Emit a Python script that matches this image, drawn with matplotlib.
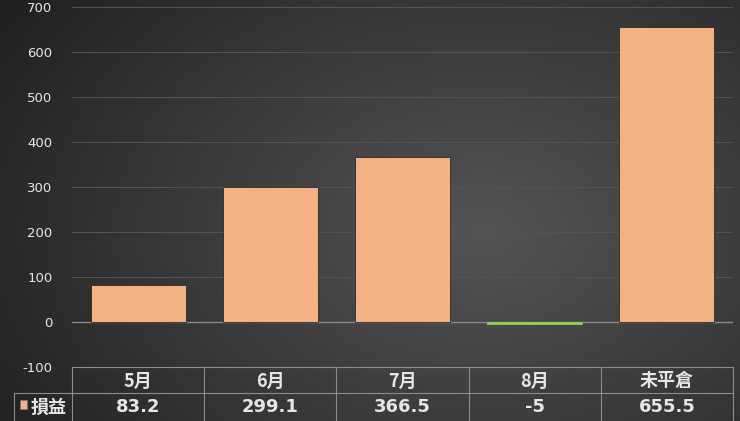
import numpy as np
import matplotlib
matplotlib.use("Agg")
import matplotlib.pyplot as plt
from matplotlib.patches import Rectangle

plt.rcParams['font.family'] = ['Noto Sans CJK TC', 'DejaVu Sans']

categories = ['5月', '6月', '7月', '8月', '未平倉']
values = [83.2, 299.1, 366.5, -5, 655.5]
value_labels = ['83.2', '299.1', '366.5', '-5', '655.5']
series_name = '損益'
yticks = [-100, 0, 100, 200, 300, 400, 500, 600, 700]

W, H = 740, 421
fig = plt.figure(figsize=(W / 100, H / 100), dpi=100)

# background gradient
bg = fig.add_axes([0, 0, 1, 1])
yy, xx = np.mgrid[0:H, 0:W]
cx, cy = 0.65 * W, 0.55 * H
r = np.sqrt(((xx - cx) / (0.8 * W)) ** 2 + ((yy - cy) / (1.0 * H)) ** 2)
g = np.clip(0.33 - 0.21 * r, 0.13, 0.34)
img = np.dstack([g, g, g])
bg.imshow(img, aspect='auto', extent=[0, 1, 0, 1], origin='upper')
bg.set_axis_off()

x0, x1 = 72 / W, 733 / W
ytop, ybot = 7, 367
ax = fig.add_axes([x0, (H - ybot) / H, x1 - x0, (ybot - ytop) / H])
ax.set_facecolor('none')
ax.set_ylim(-100, 700)
ax.set_xlim(-0.5, len(categories) - 0.5)
ax.set_yticks(yticks)
ax.set_yticklabels([str(t) for t in yticks], color='#e6e6e6', fontsize=9.5,
                   family=['DejaVu Sans'])
ax.tick_params(axis='y', length=0, pad=14)
ax.tick_params(axis='x', length=0, labelbottom=False)
for s in ax.spines.values():
    s.set_visible(False)
ax.grid(axis='y', color='#545454', linewidth=0.7)
ax.set_axisbelow(True)
ax.axhline(0, color='#888888', linewidth=1.0, zorder=1)

colors = ['#F4B183' if v >= 0 else '#92D050' for v in values]
edges = ['#2a2a2a' if v >= 0 else '#92D050' for v in values]
xs = np.arange(len(categories))
bars = ax.bar(xs, values, width=0.72, color=colors, edgecolor=edges,
              linewidth=0.6, zorder=2)

# data table
hdr_top, hdr_bot, row_bot = 367, 393, 423
def fy(p):
    return (H - p) / H
line_c = '#8c8c8c'
ncol = len(categories)
col_w = (x1 - x0) / ncol
fig.add_artist(plt.Line2D([x0, x1], [fy(hdr_top)] * 2, color=line_c, lw=0.8))
fig.add_artist(plt.Line2D([14 / W, x1], [fy(hdr_bot)] * 2, color=line_c, lw=0.8))
for i in range(ncol + 1):
    xv = x0 + i * col_w
    fig.add_artist(plt.Line2D([xv, xv], [fy(hdr_top), fy(row_bot)], color=line_c, lw=0.8))
fig.add_artist(plt.Line2D([14 / W, 14 / W], [fy(hdr_bot), fy(row_bot)], color=line_c, lw=0.8))

for i, (c, vl) in enumerate(zip(categories, value_labels)):
    xc = x0 + (i + 0.5) * col_w
    fig.text(xc, fy((hdr_top + hdr_bot) / 2 + 1), c, color='#e6e6e6', fontsize=13,
             fontweight='bold', ha='center', va='center')
    fig.text(xc, fy(407.5), vl, color='#e6e6e6', fontsize=13,
             fontweight='bold', ha='center', va='center', family=['DejaVu Sans'])

fig.add_artist(Rectangle((20 / W, fy(409)), 7 / W, 9 / H, facecolor='#F4B183',
                         edgecolor='#777777', lw=0.5))
fig.text(31 / W, fy(407.5), series_name, color='#e6e6e6', fontsize=13,
         fontweight='bold', ha='left', va='center')

fig.savefig('out.png', dpi=100)
